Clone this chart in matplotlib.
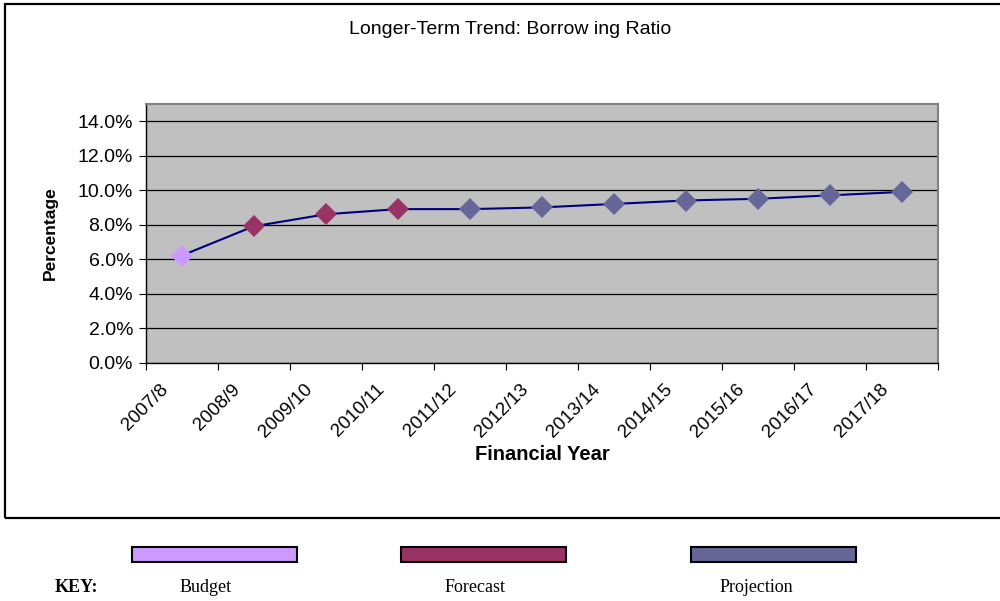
import matplotlib.pyplot as plt
from matplotlib.patches import Rectangle
from matplotlib.ticker import PercentFormatter
from matplotlib.transforms import ScaledTranslation

# Borrowing ratio by financial year (fraction of 1)
years = ['2007/8', '2008/9', '2009/10', '2010/11', '2011/12', '2012/13',
         '2013/14', '2014/15', '2015/16', '2016/17', '2017/18']
ratio = [0.062, 0.079, 0.086, 0.089, 0.089, 0.090,
         0.092, 0.094, 0.095, 0.097, 0.099]
stage = ['Budget', 'Forecast', 'Forecast', 'Forecast', 'Projection', 'Projection',
         'Projection', 'Projection', 'Projection', 'Projection', 'Projection']

key_names = ['Budget', 'Forecast', 'Projection']
key_colors = {'Budget': '#CC99FF', 'Forecast': '#993366', 'Projection': '#666699'}

W, H = 1000, 601
fig = plt.figure(figsize=(W / 100, H / 100), dpi=100)
plt.rcParams['font.family'] = ['Liberation Sans', 'DejaVu Sans']

# outer chart frame (right edge runs off the page)
fig.patches.append(Rectangle((5 / W, 1 - 518 / H), 1.0, (518 - 4) / H,
                             transform=fig.transFigure, fill=False,
                             edgecolor='black', linewidth=1.6))

ax = fig.add_axes([145.5 / W, 1 - 362.5 / H, (938 - 145.5) / W, (362.5 - 104) / H])
ax.set_facecolor('#C0C0C0')

x = list(range(len(years)))
ax.plot(x, ratio, color='#000080', linewidth=1.5, zorder=3)
for xi, yi, s in zip(x, ratio, stage):
    ax.plot(xi, yi, marker='D', markersize=11.5, color=key_colors[s],
            markeredgewidth=0, linestyle='none', zorder=4)

ax.set_xlim(-0.5, len(years) - 0.5)
ax.set_ylim(0, 0.15)
ax.set_yticks([i * 0.02 for i in range(8)])
ax.yaxis.set_major_formatter(PercentFormatter(1.0, decimals=1))
ax.grid(axis='y', color='black', linewidth=0.9)
ax.set_axisbelow(True)

# category ticks sit on the boundaries, labels near the centres
ax.set_xticks([i - 0.5 for i in range(len(years) + 1)])
ax.set_xticklabels([])
ax.set_xticks(x, minor=True)
ax.set_xticklabels(years, minor=True, rotation=45, ha='right',
                   rotation_mode='anchor', fontsize=13.5)
ax.tick_params(axis='x', which='minor', length=0, pad=8)
ax.tick_params(axis='x', which='major', length=5, direction='out')
ax.tick_params(axis='y', length=5, labelsize=14, pad=4)
shift = ScaledTranslation(-22 / 100, -7 / 100, fig.dpi_scale_trans)
for lbl in ax.get_xticklabels(minor=True):
    lbl.set_transform(lbl.get_transform() + shift)

for side in ('left', 'bottom'):
    ax.spines[side].set_color('black')
    ax.spines[side].set_linewidth(1.0)
for side in ('top', 'right'):
    ax.spines[side].set_color('#808080')
    ax.spines[side].set_linewidth(1.5)

ax.set_ylabel('Percentage', fontsize=12.5, fontweight='bold', labelpad=14)
fig.text(542 / W, 1 - 455 / H, 'Financial Year', ha='center', va='center',
         fontsize=14.5, fontweight='bold')
fig.text(510 / W, 1 - 29 / H, 'Longer-Term Trend: Borrow ing Ratio',
         ha='center', va='center', fontsize=14)

# colour key underneath the chart
bar_left = [132, 401, 691]
text_x = [206, 475, 756]
for name, bx, tx in zip(key_names, bar_left, text_x):
    fig.patches.append(Rectangle((bx / W, 1 - 562 / H), 165 / W, 15 / H,
                                 transform=fig.transFigure,
                                 facecolor=key_colors[name], edgecolor='black',
                                 linewidth=1.5))
    fig.text(tx / W, 1 - 588 / H, name, ha='center', va='center',
             fontsize=13, family='Liberation Serif')
fig.text(55 / W, 1 - 588 / H, 'KEY:', ha='left', va='center', fontsize=13,
         fontweight='bold', family='Liberation Serif')

fig.savefig('out.png', dpi=100)
